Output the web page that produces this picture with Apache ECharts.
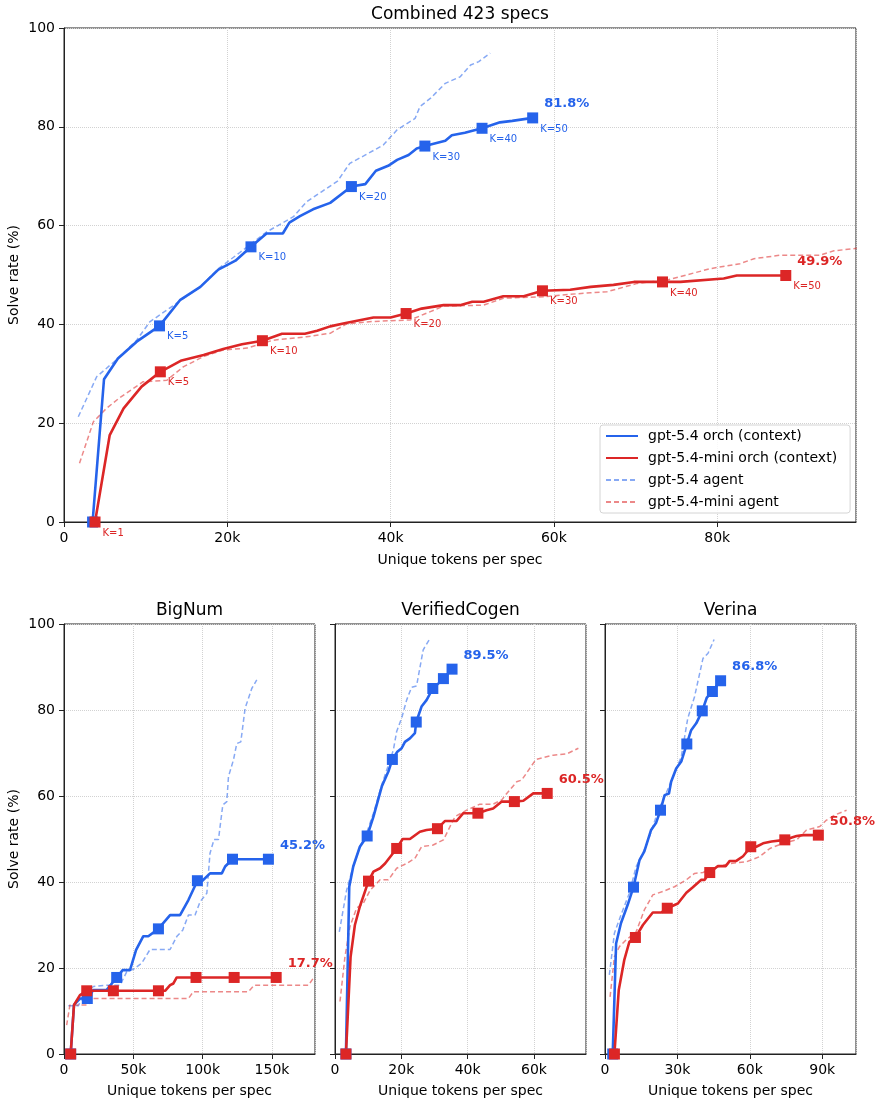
<!DOCTYPE html>
<html>
<head>
<meta charset="utf-8">
<script src="https://cdn.jsdelivr.net/npm/echarts@6/dist/echarts.min.js"></script>
<style>
  html, body { margin: 0; padding: 0; background: #fff; }
  #chart-container { width: 882px; height: 1106px; }
</style>
</head>
<body>
<div id="chart-container"></div>
<script>
// x in thousands of unique tokens per spec, y = solve rate (%)
const panelTitles = ['Combined 423 specs', 'BigNum', 'VerifiedCogen', 'Verina']
const seriesNames = ['gpt-5.4 orch (context)', 'gpt-5.4-mini orch (context)', 'gpt-5.4 agent', 'gpt-5.4-mini agent']
const kLabels = ['K=1', 'K=5', 'K=10', 'K=20', 'K=30', 'K=40', 'K=50']
const xMax = [97, 181, 75.7, 104]
const xInterval = [20, 50, 20, 30]
const yTicks = [0, 20, 40, 60, 80, 100]

// Combined
const combOrch = [[3.5,0],[4.9,28.9],[6.6,33.1],[8.9,36.5],[11.7,39.7],[14.2,44.9],[16.7,47.6],[18.9,51.1],[21.0,52.9],[22.9,55.7],[24.8,58.4],[26.8,58.4],[27.6,60.6],[28.9,61.9],[30.5,63.3],[32.6,64.6],[35.2,67.9],[36.9,68.4],[38.2,71.1],[39.7,72.1],[40.8,73.3],[42.2,74.3],[43.2,75.6],[44.2,76.1],[46.7,77.2],[47.5,78.3],[49.1,78.8],[51.2,79.7],[53.4,80.9],[54.9,81.2],[57.4,81.8]]
const combMiniOrch = [[3.8,0],[5.6,17.6],[7.3,23.0],[9.5,27.4],[11.8,30.4],[14.4,32.7],[17.1,33.8],[19.5,35.0],[21.8,36.0],[24.3,36.7],[26.7,38.1],[29.5,38.1],[31.0,38.7],[32.6,39.6],[34.5,40.3],[37.9,41.4],[40.0,41.4],[41.9,42.2],[43.8,43.2],[46.5,43.9],[48.5,43.9],[50.0,44.6],[51.4,44.6],[53.8,45.7],[56.3,45.7],[58.6,46.8],[62.0,47.0],[64.5,47.6],[67.3,48.0],[69.8,48.6],[73.3,48.6],[75.5,48.6],[80.8,49.3],[82.4,49.9],[88.4,49.9]]
const combAgent = [[1.75,21.3],[4.0,29.4],[6.6,33.1],[8.9,36.8],[10.5,40.5],[13.8,44.3],[16.7,47.6],[18.9,51.3],[21.5,54.5],[24.8,58.7],[28.1,61.8],[29.7,64.8],[31.5,66.8],[33.5,69.0],[35.0,72.6],[36.7,74.1],[39.1,76.3],[40.8,79.4],[43.0,81.7],[43.6,84.1],[44.9,85.8],[46.7,88.8],[48.5,90.1],[49.8,92.5],[50.8,93.2],[52.2,94.9]]
const combMiniAgent = [[1.9,11.9],[3.6,20.3],[5.2,23.0],[6.7,25.0],[9.7,28.4],[12.6,28.7],[14.6,31.4],[17.1,33.5],[19.5,34.8],[22.4,35.2],[25.6,36.8],[29.7,37.5],[32.6,38.2],[34.6,40.1],[37.9,40.6],[42.4,40.9],[46.5,43.7],[51.4,43.9],[53.8,45.3],[58.7,45.6],[62.0,46.1],[64.5,46.4],[66.5,46.6],[70.2,48.3],[73.9,49.0],[79.2,51.3],[82.8,52.3],[84.5,53.3],[87.7,54.0],[92.6,54.0],[94.3,54.9],[97.1,55.4]]
const combOrchK = [[3.5,0],[11.7,39.7],[22.9,55.7],[35.2,67.9],[44.2,76.1],[51.2,79.7],[57.4,81.8]]
const combMiniOrchK = [[3.8,0],[11.8,30.4],[24.3,36.7],[41.9,42.2],[58.6,46.8],[73.3,48.6],[88.4,49.9]]

// BigNum
const bigOrch = [[4.8,0],[7.2,11.4],[11.5,12.9],[16.8,12.9],[21.2,14.9],[30.8,14.9],[38.0,17.8],[42.3,19.5],[47.6,19.5],[52.0,24.2],[57.2,27.4],[60.8,27.4],[68.1,29.1],[71.7,30.5],[76.5,32.3],[83.7,32.3],[89.7,35.8],[96.2,40.3],[99.8,40.3],[105.3,42.0],[113.8,42.0],[116.2,43.6],[121.5,45.3],[147.4,45.3]]
const bigMiniOrch = [[4.8,0],[7.2,11.4],[11.5,13.7],[16.4,14.7],[35.6,14.7],[68.1,14.7],[72.9,14.7],[76.5,16.0],[78.9,16.4],[81.3,17.8],[95.2,17.8],[122.7,17.8],[153.0,17.8]]
const bigAgent = [[3.1,11.2],[10.3,11.2],[14.0,13.7],[21.2,15.7],[30.8,16.0],[40.4,16.0],[45.2,19.1],[50.0,19.7],[56.0,21.1],[62.0,24.3],[76.5,24.3],[81.3,27.3],[85.6,28.8],[89.7,32.3],[94.5,32.3],[98.1,35.4],[103.0,37.4],[105.3,46.7],[108.2,49.9],[111.4,49.9],[114.5,57.9],[117.4,58.7],[118.6,64.5],[122.2,68.4],[124.6,72.2],[127.5,72.6],[130.6,80.4],[135.4,85.0],[139.0,87.0]]
const bigMiniAgent = [[1.9,6.7],[4.3,11.4],[17.6,11.4],[20.0,12.9],[89.7,12.9],[93.3,14.5],[133.0,14.5],[137.1,16.0],[176.3,16.0],[180.6,18.0]]
const bigOrchK = [[4.8,0],[16.8,12.9],[38.0,17.8],[68.1,29.1],[96.2,40.3],[121.5,45.3],[147.4,45.3]]
const bigMiniOrchK = [[4.8,0],[16.4,14.7],[35.6,14.7],[68.1,14.7],[95.2,17.8],[122.7,17.8],[153.0,17.8]]

// VerifiedCogen
const vcOrch = [[3.3,0],[4.3,38.9],[5.5,43.6],[7.5,48.2],[9.7,50.7],[11.6,55.2],[14.1,62.2],[16.1,65.7],[17.3,68.5],[18.8,70.3],[20.1,71.1],[21.1,72.6],[22.6,73.4],[24.1,74.6],[24.5,77.2],[26.1,80.8],[27.6,82.3],[29.5,85.0],[31.2,86.2],[32.7,87.3],[35.3,89.5]]
const vcMiniOrch = [[3.3,0],[4.7,22.6],[6.0,30.0],[7.5,34.3],[10.1,40.2],[11.6,42.4],[13.6,43.2],[15.1,44.3],[18.6,47.8],[20.4,50.0],[22.6,50.0],[25.6,51.7],[27.6,52.1],[30.9,52.4],[33.2,54.2],[36.7,54.2],[38.7,56.0],[43.1,56.0],[45.7,56.7],[47.7,57.1],[50.3,58.7],[54.1,58.7],[56.8,58.9],[59.8,60.6],[64.0,60.6]]
const vcAgent = [[1.3,28.4],[3.5,38.1],[5.5,43.6],[7.5,48.2],[9.5,51.3],[11.6,56.0],[14.1,62.6],[16.1,67.2],[17.6,70.7],[18.6,75.0],[20.1,78.1],[21.6,82.3],[23.1,85.3],[24.6,85.6],[26.6,94.0],[28.4,96.3]]
const vcMiniAgent = [[1.5,12.2],[3.0,22.6],[4.5,29.6],[6.5,33.9],[8.5,35.0],[10.6,38.1],[13.6,40.5],[16.1,40.5],[18.6,43.2],[21.6,44.3],[24.1,45.5],[26.1,48.2],[29.6,48.6],[32.7,49.8],[34.7,52.9],[36.2,55.2],[39.7,56.7],[43.7,58.1],[47.7,58.1],[50.3,59.1],[51.8,60.6],[54.8,63.3],[56.3,63.7],[60.6,68.5],[65.8,69.5],[69.9,69.8],[73.4,71.1]]
const vcOrchK = [[3.3,0],[9.7,50.7],[17.3,68.5],[24.5,77.2],[29.5,85.0],[32.7,87.3],[35.3,89.5]]
const vcMiniOrchK = [[3.3,0],[10.1,40.2],[18.6,47.8],[30.9,52.4],[43.1,56.0],[54.1,58.7],[64.0,60.6]]

// Verina
const veOrch = [[3.2,0],[4.6,25.7],[6.6,30.4],[9.4,34.7],[11.8,38.8],[14.3,45.1],[16.3,47.1],[19.1,52.1],[21.2,53.8],[23.0,56.7],[24.7,60.2],[26.5,60.6],[27.4,63.3],[29.5,66.4],[31.6,68.0],[33.9,72.1],[35.7,75.3],[37.8,76.9],[40.3,79.8],[42.2,82.9],[44.5,84.3],[47.9,86.8]]
const veMiniOrch = [[3.9,0],[5.7,14.9],[8.0,21.9],[10.1,26.1],[12.6,27.1],[15.7,30.0],[19.8,32.9],[23.3,32.9],[25.8,33.9],[30.2,35.0],[33.7,37.5],[36.4,38.8],[39.9,40.5],[41.3,40.5],[43.4,42.2],[46.8,43.7],[50.0,43.7],[51.7,44.9],[54.4,44.9],[57.2,46.0],[60.4,48.2],[62.7,48.2],[65.5,49.0],[69.0,49.4],[74.5,49.8],[79.4,50.7],[82.1,50.9],[88.4,50.9]]
const veAgent = [[1.8,18.4],[3.9,28.1],[6.6,32.3],[10.1,37.4],[12.9,43.6],[15.7,46.7],[18.4,50.5],[21.9,56.4],[25.3,60.6],[28.8,65.3],[31.6,69.1],[34.3,78.1],[37.1,83.1],[40.6,92.0],[42.7,93.2],[45.2,96.4]]
const veMiniAgent = [[2.1,13.3],[3.9,22.6],[6.0,25.0],[8.7,26.5],[12.9,28.4],[16.3,33.5],[19.8,37.0],[24.0,37.8],[28.8,38.9],[33.7,40.5],[37.1,42.0],[40.6,42.2],[44.7,43.2],[51.7,44.3],[58.6,44.7],[64.1,45.9],[68.3,47.8],[73.8,49.0],[79.4,49.8],[83.5,52.1],[89.0,52.9],[91.8,54.4],[95.3,55.6],[100.1,56.7]]
const veOrchK = [[3.2,0],[11.8,38.8],[23.0,56.7],[33.9,72.1],[40.3,79.8],[44.5,84.3],[47.9,86.8]]
const veMiniOrchK = [[3.9,0],[12.6,27.1],[25.8,33.9],[43.4,42.2],[60.4,48.2],[74.5,49.8],[88.4,50.9]]

const finalPct = [['81.8%', '49.9%'], ['45.2%', '17.7%'], ['89.5%', '60.5%'], ['86.8%', '50.8%']]

const BLUE = '#2563eb'
const RED = '#dc2626'
const FONT = 'DejaVu Sans'

const grids = [
  {left: 64, top: 28, width: 792, height: 494},
  {left: 64, top: 624, width: 251, height: 430},
  {left: 335, top: 624, width: 251, height: 430},
  {left: 605, top: 624, width: 251, height: 430}
].map(g => ({...g, show: true, borderColor: '#222', borderWidth: 1, backgroundColor: 'transparent',
  containLabel: false, outerBoundsMode: 'none'}))

const titleCenters = [[460, 6], [189.5, 602], [460.5, 602], [730.5, 602]]

const lineSeries = (name, data, i, color, dashed) => ({
  name, type: 'line', xAxisIndex: i, yAxisIndex: i, data,
  symbol: 'none', silent: true, animation: false,
  lineStyle: dashed ? {color, width: 1.5, type: [5, 3], opacity: 0.55} : {color, width: 2.6},
  itemStyle: {color},
  z: dashed ? 2 : 3
})

const markerSeries = (data, i, color, withK, skipFirst) => ({
  type: 'scatter', xAxisIndex: i, yAxisIndex: i, symbol: 'rect', symbolSize: 11,
  silent: true, z: 4, itemStyle: {color, opacity: 1},
  data: data.map((p, j) => {
    const item = {value: p}
    if (withK && !(skipFirst && j === 0)) {
      item.label = {show: true, formatter: kLabels[j], position: 'right', distance: 2, offset: [0, 11],
        color, fontSize: 10, fontFamily: FONT}
    }
    return item
  })
})

const pctSeries = (point, i, color, text) => ({
  type: 'scatter', xAxisIndex: i, yAxisIndex: i, symbol: 'rect', symbolSize: 11,
  silent: true, z: 5, clip: false, itemStyle: {color: 'rgba(0,0,0,0)', opacity: 1},
  data: [{value: point, label: {show: true, formatter: text, position: 'right', distance: 6, offset: [0, -14],
    color, fontSize: 13, fontWeight: 'bold', fontFamily: FONT}}]
})

const panels = [
  [combOrch, combMiniOrch, combAgent, combMiniAgent, combOrchK, combMiniOrchK],
  [bigOrch, bigMiniOrch, bigAgent, bigMiniAgent, bigOrchK, bigMiniOrchK],
  [vcOrch, vcMiniOrch, vcAgent, vcMiniAgent, vcOrchK, vcMiniOrchK],
  [veOrch, veMiniOrch, veAgent, veMiniAgent, veOrchK, veMiniOrchK]
]

const series = []
panels.forEach(([o, mo, a, ma, ok, mok], i) => {
  series.push(lineSeries(seriesNames[2], a, i, BLUE, true))
  series.push(lineSeries(seriesNames[3], ma, i, RED, true))
  series.push(lineSeries(seriesNames[0], o, i, BLUE, false))
  series.push(lineSeries(seriesNames[1], mo, i, RED, false))
  series.push(markerSeries(ok, i, BLUE, i === 0, true))
  series.push(markerSeries(mok, i, RED, i === 0, false))
  series.push(pctSeries(ok[ok.length - 1], i, BLUE, finalPct[i][0]))
  series.push(pctSeries(mok[mok.length - 1], i, RED, finalPct[i][1]))
})

const axisText = {color: '#000', fontSize: 14, fontFamily: FONT}

const options = {
  animation: false,
  textStyle: {fontFamily: FONT},
  title: panelTitles.map((t, i) => ({
    text: t, left: titleCenters[i][0], top: titleCenters[i][1], textAlign: 'center', padding: 0,
    textStyle: {fontSize: 17, fontWeight: 'normal', color: '#000', fontFamily: FONT}
  })),
  grid: grids,
  legend: {
    data: seriesNames,
    orient: 'vertical',
    left: 600, top: 425,
    padding: [4, 13, 4, 5],
    itemWidth: 32, itemHeight: 14, itemGap: 8,
    itemStyle: {opacity: 0},
    backgroundColor: 'rgba(255,255,255,0.85)',
    borderColor: '#d4d4d4', borderWidth: 1, borderRadius: 3,
    selectedMode: false,
    textStyle: {fontSize: 14, color: '#000', fontFamily: FONT, padding: [0, 0, 0, 5]}
  },
  xAxis: grids.map((g, i) => ({
    type: 'value', gridIndex: i, min: 0, max: xMax[i], interval: xInterval[i],
    name: 'Unique tokens per spec', nameLocation: 'middle', nameGap: i === 0 ? 31 : 30,
    nameMoveOverlap: false,
    nameTextStyle: axisText,
    axisLine: {show: true, lineStyle: {color: '#222', width: 1}},
    axisTick: {show: true, length: 5, lineStyle: {color: '#222'}},
    axisLabel: {...axisText, margin: 9, showMaxLabel: false,
      formatter: v => v === 0 ? '0' : v + 'k'},
    splitLine: {show: true, lineStyle: {color: '#d2d2d2', type: 'dotted', width: 1}}
  })),
  yAxis: grids.map((g, i) => ({
    type: 'value', gridIndex: i, min: yTicks[0], max: yTicks[yTicks.length - 1], interval: 20,
    name: i < 2 ? 'Solve rate (%)' : '', nameLocation: 'middle', nameGap: 43,
    nameMoveOverlap: false,
    nameTextStyle: axisText,
    axisLine: {show: true, lineStyle: {color: '#222', width: 1}},
    axisTick: {show: true, length: 5, lineStyle: {color: '#222'}},
    axisLabel: {...axisText, margin: 9, show: i < 2},
    splitLine: {show: true, lineStyle: {color: '#d2d2d2', type: 'dotted', width: 1}}
  })),
  series
}

const dom = document.getElementById('chart-container')
const myChart = echarts.init(dom, null, {renderer: 'canvas'})
myChart.setOption(options)
window.addEventListener('resize', myChart.resize)
</script>
</body>
</html>
